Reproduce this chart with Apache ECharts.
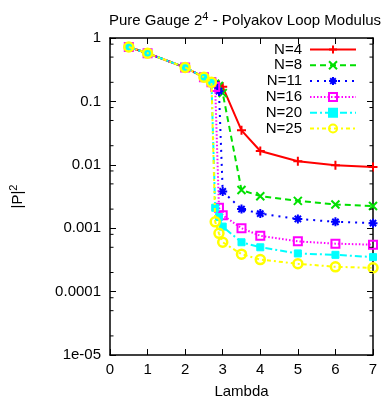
<!DOCTYPE html>
<html><head><meta charset="utf-8">
<script src="https://cdn.jsdelivr.net/npm/echarts@6/dist/echarts.min.js"></script>
<style>html,body{margin:0;padding:0;background:#fff}#c{width:382px;height:404px}</style>
</head><body><div id="c"></div>
<script>
// ---- data ----
const seriesNames = ['N=4', 'N=8', 'N=11', 'N=16', 'N=20', 'N=25'];
const lambdaN4  = [0.5, 1, 2, 2.5, 2.7, 2.8, 2.9, 3.0, 3.5, 4, 5, 6, 7];
const pN4       = [0.72, 0.575, 0.343, 0.24, 0.205, 0.19, 0.18, 0.17, 0.035, 0.0165, 0.0114, 0.0098, 0.0092];
const lambdaN8  = [0.5, 1, 2, 2.5, 2.7, 2.8, 2.9, 3.0, 3.5, 4, 5, 6, 7];
const pN8       = [0.72, 0.575, 0.343, 0.24, 0.205, 0.19, 0.175, 0.135, 0.0040, 0.0032, 0.0027, 0.00237, 0.00224];
const lambdaN11 = [0.5, 1, 2, 2.5, 2.7, 2.8, 2.9, 3.0, 3.5, 4, 5, 6, 7];
const pN11      = [0.72, 0.575, 0.343, 0.24, 0.205, 0.185, 0.145, 0.0038, 0.0020, 0.0017, 0.0014, 0.00126, 0.0012];
const lambdaN16 = [0.5, 1, 2, 2.5, 2.7, 2.8, 2.9, 3.0, 3.5, 4, 5, 6, 7];
const pN16      = [0.72, 0.575, 0.343, 0.24, 0.2, 0.168, 0.0021, 0.0016, 0.0010, 0.00076, 0.00062, 0.00057, 0.00055];
const lambdaN20 = [0.5, 1, 2, 2.5, 2.7, 2.8, 2.9, 3.0, 3.5, 4, 5, 6, 7];
const pN20      = [0.72, 0.575, 0.343, 0.24, 0.2, 0.0021, 0.0015, 0.00106, 0.0006, 0.0005, 0.0004, 0.00038, 0.00035];
const lambdaN25 = [0.5, 1, 2, 2.5, 2.7, 2.8, 2.9, 3.0, 3.5, 4, 5, 6, 7];
const pN25      = [0.72, 0.575, 0.343, 0.24, 0.2, 0.00126, 0.00083, 0.0006, 0.00039, 0.00032, 0.000275, 0.000246, 0.000237];
const xTicks = [0, 1, 2, 3, 4, 5, 6, 7];
const yTickValues = [1e-5, 1e-4, 1e-3, 1e-2, 1e-1, 1];
const yTickLabels = ['1e-05', '0.0001', '0.001', '0.01', '0.1', '1'];
const yMinorTicks = [2e-5, 5e-5, 8e-5, 2e-4, 5e-4, 8e-4, 2e-3, 5e-3, 8e-3, 2e-2, 5e-2, 8e-2, 0.2, 0.5, 0.8];

const lambdas = [lambdaN4, lambdaN8, lambdaN11, lambdaN16, lambdaN20, lambdaN25];
const values  = [pN4, pN8, pN11, pN16, pN20, pN25];

// ---- styles ----
const FONT = "'Liberation Sans', Arial, sans-serif";
const plusPath = 'path://M0,5L10,5M5,0L5,10';
const crossPath = 'path://M0,0L10,10M10,0L0,10';
const starPath = 'path://M0,5L10,5M5,0L5,10M1.5,1.5L8.5,8.5M8.5,1.5L1.5,8.5';
const styles = [
  {color: '#ff0000', dash: 'solid', symbol: plusPath, size: 9, fill: '#ff0000', bw: 2},
  {color: '#00e000', dash: [6, 4], symbol: crossPath, size: 8, fill: '#00e000', bw: 2},
  {color: '#0000ff', dash: [2, 5], symbol: starPath, size: 9, fill: '#0000ff', bw: 2},
  {color: '#ff00ff', dash: [1.5, 2], symbol: 'rect', size: 8, fill: 'rgba(255,0,255,0)', bw: 2},
  {color: '#00ffff', dash: [7, 3, 2, 3], symbol: 'rect', size: 7, fill: '#00ffff', bw: 1},
  {color: '#ffff00', dash: [4, 3, 2, 3], symbol: 'circle', size: 9, fill: 'rgba(255,255,0,0)', bw: 2.5}
];

const series = seriesNames.map((name, i) => ({
  name: name,
  type: 'line',
  xAxisIndex: 0, yAxisIndex: 0,
  data: lambdas[i].map((x, j) => [x, values[i][j]]),
  symbol: styles[i].symbol,
  symbolSize: styles[i].size,
  showAllSymbol: true,
  lineStyle: {color: styles[i].color, width: 2, type: styles[i].dash},
  itemStyle: {color: styles[i].fill, borderColor: styles[i].color, borderWidth: styles[i].bw},
  emphasis: {disabled: true},
  animation: false,
  z: 2 + i
}));

series.push({
  type: 'custom', silent: true, clip: false, z: 10, animation: false,
  xAxisIndex: 0, yAxisIndex: 0,
  data: yMinorTicks.map(v => [xTicks[0], v]),
  renderItem: (params, api) => {
    const v = api.value(1);
    const a = api.coord([xTicks[0], v]);
    const b = api.coord([xTicks[xTicks.length - 1], v]);
    return {type: 'group', children: [
      {type: 'line', shape: {x1: a[0], y1: a[1], x2: a[0] + 3.5, y2: a[1]}, style: {stroke: '#000', lineWidth: 1}},
      {type: 'line', shape: {x1: b[0] - 3.5, y1: b[1], x2: b[0], y2: b[1]}, style: {stroke: '#000', lineWidth: 1}}
    ]};
  }
});

const axisLine = {show: true, onZero: false, lineStyle: {color: '#000', width: 1.5}};
const yLabel = v => {
  const k = yTickValues.findIndex(t => Math.abs(Math.log10(t) - Math.log10(v)) < 1e-6);
  return k >= 0 ? yTickLabels[k] : '';
};

const chart = echarts.init(document.getElementById('c'), null, {renderer: 'canvas'});
chart.setOption({
  animation: false,
  backgroundColor: '#fff',
  textStyle: {fontFamily: FONT},
  title: {
    text: '{a|Pure Gauge 2}{s|4}{a| - Polyakov Loop Modulus}',
    left: 240, top: 6, textAlign: 'center',
    textStyle: {
      fontWeight: 'normal',
      rich: {
        a: {fontFamily: FONT, fontSize: 15, color: '#000', fontWeight: 'normal'},
        s: {fontFamily: FONT, fontSize: 11, color: '#000', fontWeight: 'normal', verticalAlign: 'top', padding: [0, 0, 8, 0]}
      }
    }
  },
  grid: {left: 108, right: 9, top: 38, bottom: 46, containLabel: false},
  legend: {
    data: seriesNames,
    orient: 'vertical',
    right: 25, top: 42,
    padding: 0,
    align: 'right',
    itemWidth: 46, itemHeight: 10, itemGap: 0.8,
    selectedMode: false,
    formatter: n => '{a|' + n + '}',
    textStyle: {
      fontFamily: FONT, fontSize: 15, color: '#000', lineHeight: 15,
      rich: {a: {fontFamily: FONT, fontSize: 15, color: '#000', width: 40, align: 'right', lineHeight: 15, padding: [0, 3, 0, 0]}}
    }
  },
  xAxis: [{
    type: 'value', min: xTicks[0], max: xTicks[xTicks.length - 1], interval: 1,
    position: 'bottom',
    name: 'Lambda', nameLocation: 'middle', nameGap: 29,
    nameTextStyle: {fontFamily: FONT, fontSize: 15, color: '#000'},
    axisLine: axisLine,
    axisTick: {show: true, inside: true, length: 6, lineStyle: {color: '#000', width: 1}},
    axisLabel: {show: true, margin: 7, fontFamily: FONT, fontSize: 15, color: '#000'},
    splitLine: {show: false}
  }, {
    type: 'value', min: xTicks[0], max: xTicks[xTicks.length - 1], interval: 1,
    position: 'top',
    axisLine: axisLine,
    axisTick: {show: true, inside: true, length: 6, lineStyle: {color: '#000', width: 1}},
    axisLabel: {show: false},
    splitLine: {show: false}
  }],
  yAxis: [{
    type: 'log', logBase: 10, min: yTickValues[0], max: yTickValues[yTickValues.length - 1],
    position: 'left',
    name: '|P|{s|2}', nameLocation: 'middle', nameGap: 83, nameRotate: 90,
    nameTextStyle: {
      fontFamily: FONT, fontSize: 15, color: '#000',
      rich: {s: {fontFamily: FONT, fontSize: 11, color: '#000', verticalAlign: 'top', padding: [0, 0, 8, 0]}}
    },
    axisLine: axisLine,
    axisTick: {show: true, inside: true, length: 6, lineStyle: {color: '#000', width: 1}},
    axisLabel: {show: true, margin: 9, fontFamily: FONT, fontSize: 15, color: '#000', formatter: yLabel},
    splitLine: {show: false},
    minorTick: {show: false}
  }, {
    type: 'log', logBase: 10, min: yTickValues[0], max: yTickValues[yTickValues.length - 1],
    position: 'right',
    axisLine: axisLine,
    axisTick: {show: true, inside: true, length: 6, lineStyle: {color: '#000', width: 1}},
    axisLabel: {show: false},
    splitLine: {show: false}
  }],
  series: series
});
</script>
</body></html>
